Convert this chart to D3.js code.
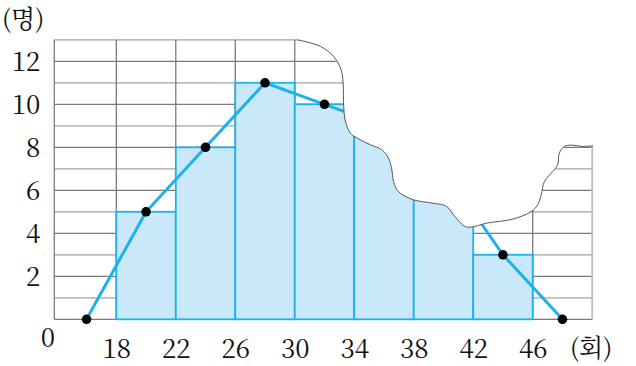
<!DOCTYPE html>
<html><head><meta charset="utf-8">
<script src="https://cdn.jsdelivr.net/npm/d3@7"></script>
<style>body{margin:0;background:#fff}svg{display:block}
.serif{font-family:"Noto Serif CJK KR","Liberation Serif",serif}
</style>
</head><body>
<script>
// Data
const binEdges = [18, 22, 26, 30, 34, 38, 42, 46];
const binCounts = [5, 8, 11, 10, 9, 7, 3];
const polyX = [16, 20, 24, 28, 32, 36, 40, 44, 48];
const polyY = [0, 5, 8, 11, 10, 9, 7, 3, 0];
const yTicks = [2, 4, 6, 8, 10, 12];
const xTicks = [18, 22, 26, 30, 34, 38, 42, 46];
const gridXMin = 13.83, gridXMax = 50, gridYMax = 13;
// torn-paper mask edge (data units)
const tearX = [30.2,31.73,32.62,33.12,33.25,33.29,33.41,33.74,34.19,35.08,35.86,36.30,36.53,36.64,36.97,37.98,39.31,40.21,40.77,41.44,41.88,42.89,44.67,45.90,46.34,46.57,46.79,47.34,47.68,47.79,48.13,48.68,49.35,50.07];
const tearY = [13,12.69,12.22,11.60,10.99,9.90,9.20,8.66,8.43,8.12,7.88,7.50,6.95,6.41,5.94,5.56,5.40,5.25,4.78,4.32,4.29,4.47,4.66,5.01,5.33,5.79,6.41,6.87,7.19,7.73,8.04,8.10,8.04,8.07];

const W = 636, H = 366;
const svg = d3.select("body").append("svg").attr("width", W).attr("height", H);
const x = d3.scaleLinear().domain([18, 46]).range([116.3, 532.7]);
const y = d3.scaleLinear().domain([0, 12]).range([319.3, 61.3]);

// grid
const g = svg.append("g");
d3.range(0, gridYMax + 1).forEach(v => {
  const dark = v % 2 === 0;
  g.append("line").attr("x1", x(gridXMin)).attr("x2", x(gridXMax)).attr("y1", y(v)).attr("y2", y(v))
    .attr("stroke", dark ? "#7a7a7a" : "#bdbdbd").attr("stroke-width", dark ? 1.3 : 1.8);
});
[gridXMin].concat(d3.range(18, 47, 4)).concat([gridXMax]).forEach(v => {
  const light = v === gridXMax;
  g.append("line").attr("x1", x(v)).attr("x2", x(v)).attr("y1", y(0)).attr("y2", y(gridYMax))
    .attr("stroke", light ? "#bdbdbd" : "#7a7a7a").attr("stroke-width", light ? 1.8 : 1.3);
});

// bars
svg.append("g").selectAll("rect").data(binCounts).join("rect")
  .attr("x", (d, i) => x(binEdges[i]))
  .attr("width", (d, i) => x(binEdges[i + 1]) - x(binEdges[i]))
  .attr("y", d => y(d))
  .attr("height", d => y(0) - y(d))
  .attr("fill", "#c9e8fa").attr("stroke", "#1eb1ea").attr("stroke-width", 1.8);

// frequency polygon
const pts = polyX.map((v, i) => [v, polyY[i]]);
svg.append("path").datum(pts)
  .attr("d", d3.line().x(d => x(d[0])).y(d => y(d[1])))
  .attr("fill", "none").attr("stroke", "#1eb1ea").attr("stroke-width", 3);
svg.append("g").selectAll("circle").data(pts).join("circle")
  .attr("cx", d => x(d[0])).attr("cy", d => y(d[1])).attr("r", 4.8).attr("fill", "#000");

// torn paper mask
const tear = tearX.map((v, i) => [v, tearY[i]]);
const maskPts = [[30.2, 13.6]].concat(tear).concat([[50.4, 8.07], [50.4, 13.6]]);
svg.append("path").datum(maskPts)
  .attr("d", d3.line().x(d => x(d[0])).y(d => y(d[1])))
  .attr("fill", "#fff").attr("stroke", "none");
const tearLine = d3.line().x(d => x(d[0])).y(d => y(d[1])).curve(d3.curveCatmullRom);
svg.append("path").datum(tear).attr("d", tearLine).attr("fill", "#fff").attr("stroke", "none");
svg.append("path").datum(tear).attr("d", tearLine)
  .attr("fill", "none").attr("stroke", "#444").attr("stroke-width", 0.9);

// axes labels
const ya = svg.append("g").attr("transform", `translate(${x(gridXMin)},0)`)
  .call(d3.axisLeft(y).tickValues(yTicks).tickSize(0).tickPadding(14).tickFormat(d3.format("d")));
ya.attr("font-family", null).attr("font-size", null);
ya.select(".domain").remove();
ya.selectAll("text").attr("class", "serif").style("font-size", "26px").attr("fill", "#111").attr("dy", "0.34em");

const xa = svg.append("g").attr("transform", `translate(0,${y(0)})`)
  .call(d3.axisBottom(x).tickValues(xTicks).tickSize(0).tickFormat(d3.format("d")));
xa.attr("font-family", null).attr("font-size", null);
xa.select(".domain").remove();
xa.selectAll("text").attr("class", "serif").style("font-size", "26px").attr("fill", "#111")
  .attr("y", 39).attr("dy", 0);

svg.append("text").attr("class", "serif").attr("x", 48).attr("y", 347).attr("text-anchor", "middle")
  .style("font-size", "26px").attr("fill", "#111").text("0");
svg.append("text").attr("class", "serif").attr("x", 2).attr("y", 28)
  .style("font-size", "25px").attr("fill", "#111").text("(명)");
svg.append("text").attr("class", "serif").attr("x", 570).attr("y", 357)
  .style("font-size", "25px").attr("fill", "#111").text("(회)");
</script>
</body></html>
